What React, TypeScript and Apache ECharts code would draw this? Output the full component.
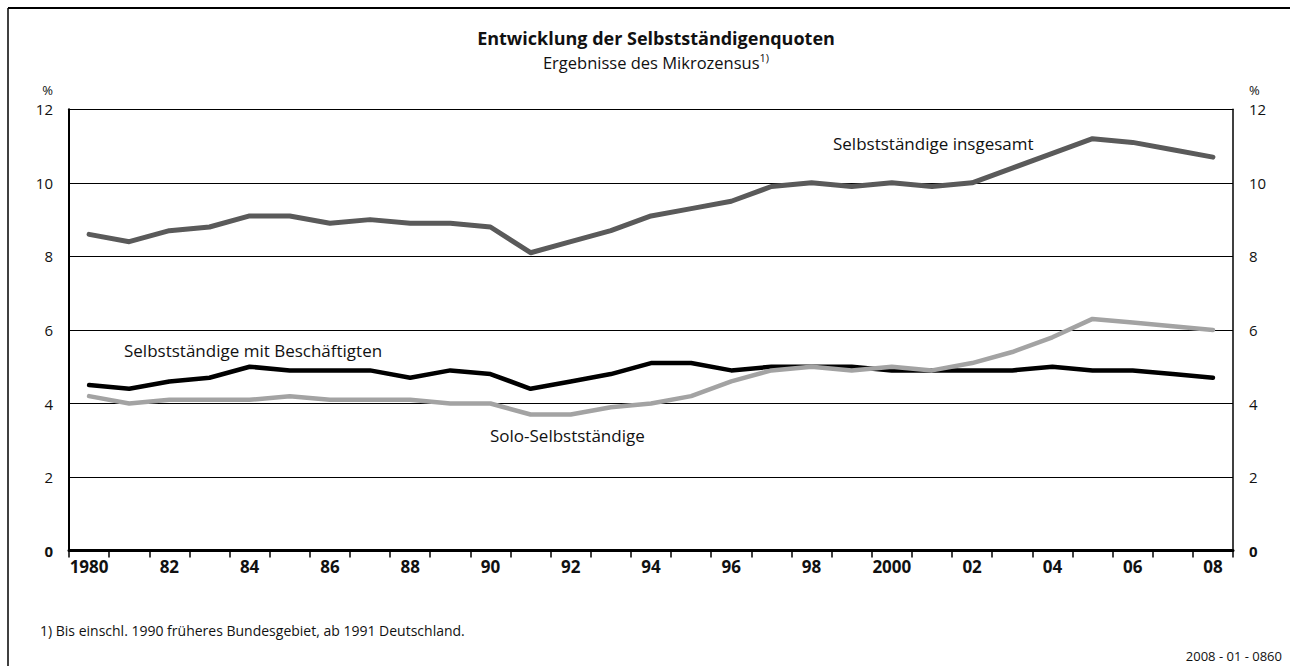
import React, { useEffect, useRef } from "react";
import * as echarts from "echarts";

const years = [
  "1980", "1981", "1982", "1983", "1984", "1985", "1986", "1987", "1988", "1989",
  "1990", "1991", "1992", "1993", "1994", "1995", "1996", "1997", "1998", "1999",
  "2000", "2001", "2002", "2003", "2004", "2005", "2006", "2007", "2008",
];
const insgesamt = [8.6, 8.4, 8.7, 8.8, 9.1, 9.1, 8.9, 9.0, 8.9, 8.9, 8.8, 8.1, 8.4, 8.7, 9.1, 9.3, 9.5, 9.9, 10.0, 9.9, 10.0, 9.9, 10.0, 10.4, 10.8, 11.2, 11.1, 10.9, 10.7];
const mitBeschaeftigten = [4.5, 4.4, 4.6, 4.7, 5.0, 4.9, 4.9, 4.9, 4.7, 4.9, 4.8, 4.4, 4.6, 4.8, 5.1, 5.1, 4.9, 5.0, 5.0, 5.0, 4.9, 4.9, 4.9, 4.9, 5.0, 4.9, 4.9, 4.8, 4.7];
const solo = [4.2, 4.0, 4.1, 4.1, 4.1, 4.2, 4.1, 4.1, 4.1, 4.0, 4.0, 3.7, 3.7, 3.9, 4.0, 4.2, 4.6, 4.9, 5.0, 4.9, 5.0, 4.9, 5.1, 5.4, 5.8, 6.3, 6.2, 6.1, 6.0];
const yTicks = [0, 2, 4, 6, 8, 10, 12];

const FONT = "'Open Sans', 'Noto Sans', sans-serif";

export default function App() {
  const ref = useRef<HTMLDivElement>(null);
  useEffect(() => {
    if (!ref.current) return;
    const chart = echarts.init(ref.current, undefined, { renderer: "svg" });
    const yLabel = (v: number) => (v === 0 ? "{b|0}" : String(v));
    const yRich = { b: { fontWeight: "bold", fontSize: 15, fontFamily: FONT, color: "#111" } };
    chart.setOption({
      animation: false,
      backgroundColor: "#fff",
      textStyle: { fontFamily: FONT },
      grid: { left: 69, right: 57, top: 109.3, bottom: 115.4, containLabel: false },
      xAxis: {
        type: "category",
        data: years,
        boundaryGap: true,
        axisLine: { show: true, lineStyle: { color: "#000", width: 3 } },
        axisTick: { show: true, interval: 0, length: 7, lineStyle: { color: "#000", width: 1.5 } },
        axisLabel: {
          interval: 1,
          margin: 7,
          fontSize: 17,
          fontWeight: "bold",
          color: "#111",
          fontFamily: FONT,
          formatter: (v: string) => (v === "1980" || v === "2000" ? v : v.slice(2)),
        },
        splitLine: { show: false },
      },
      yAxis: [
        {
          type: "value",
          min: 0,
          max: yTicks[yTicks.length - 1],
          interval: 2,
          position: "left",
          axisLine: { show: true, lineStyle: { color: "#000", width: 2 } },
          axisTick: { show: false },
          axisLabel: { margin: 16, fontSize: 15, color: "#111", fontFamily: FONT, formatter: yLabel, rich: yRich },
          splitLine: { show: true, lineStyle: { color: "#000", width: 1.2 } },
        },
        {
          type: "value",
          min: 0,
          max: yTicks[yTicks.length - 1],
          interval: 2,
          position: "right",
          axisLine: { show: true, lineStyle: { color: "#000", width: 1.5 } },
          axisTick: { show: false },
          axisLabel: { margin: 16, fontSize: 15, color: "#111", fontFamily: FONT, formatter: yLabel, rich: yRich },
          splitLine: { show: false },
        },
      ],
      series: [
        {
          name: "Selbstständige insgesamt",
          type: "line",
          data: insgesamt,
          symbol: "none",
          lineStyle: { color: "#5a5a5a", width: 5, cap: "round", join: "round" },
          z: 3,
        },
        {
          name: "Selbstständige mit Beschäftigten",
          type: "line",
          data: mitBeschaeftigten,
          symbol: "none",
          lineStyle: { color: "#000", width: 4.5, cap: "round", join: "round" },
          z: 3,
        },
        {
          name: "Solo-Selbstständige",
          type: "line",
          data: solo,
          symbol: "none",
          lineStyle: { color: "#a3a3a3", width: 4.5, cap: "round", join: "round" },
          z: 4,
        },
      ],
      graphic: [
        { type: "line", shape: { x1: 8, y1: 8, x2: 1290, y2: 8 }, style: { stroke: "#000", lineWidth: 2 } },
        { type: "line", shape: { x1: 8, y1: 8, x2: 8, y2: 666 }, style: { stroke: "#000", lineWidth: 1.5 } },
        {
          type: "text", x: 656, y: 38,
          style: { text: "Entwicklung der Selbstständigenquoten", font: `bold 18px ${FONT}`, fill: "#111", align: "center", verticalAlign: "middle" },
        },
        {
          type: "text", x: 656, y: 62,
          style: {
            text: "Ergebnisse des Mikrozensus{sup|1)}",
            font: `16.5px ${FONT}`, fill: "#111", align: "center", verticalAlign: "middle",
            rich: { sup: { fontSize: 11, fontFamily: FONT, verticalAlign: "top", padding: [0, 0, 9, 0], fill: "#111" } },
          },
        },
        { type: "text", x: 53, y: 90, style: { text: "%", font: `13px ${FONT}`, fill: "#111", align: "right", verticalAlign: "middle" } },
        { type: "text", x: 1249, y: 90, style: { text: "%", font: `13px ${FONT}`, fill: "#111", align: "left", verticalAlign: "middle" } },
        { type: "text", x: 833, y: 143, style: { text: "Selbstständige insgesamt", font: `17px ${FONT}`, fill: "#111", align: "left", verticalAlign: "middle" } },
        { type: "text", x: 124, y: 350, style: { text: "Selbstständige mit Beschäftigten", font: `17px ${FONT}`, fill: "#111", align: "left", verticalAlign: "middle" } },
        { type: "text", x: 490, y: 435, style: { text: "Solo-Selbstständige", font: `17px ${FONT}`, fill: "#111", align: "left", verticalAlign: "middle" } },
        { type: "text", x: 40, y: 630, style: { text: "1) Bis einschl. 1990 früheres Bundesgebiet, ab 1991 Deutschland.", font: `14px ${FONT}`, fill: "#111", align: "left", verticalAlign: "middle" } },
        { type: "text", x: 1282, y: 656, style: { text: "2008 - 01 - 0860", font: `13px ${FONT}`, fill: "#111", align: "right", verticalAlign: "middle" } },
      ],
    });
    return () => chart.dispose();
  }, []);
  return (
    <div
      ref={ref}
      style={{ position: "fixed", left: 0, top: 0, width: 1290, height: 666 }}
    />
  );
}
